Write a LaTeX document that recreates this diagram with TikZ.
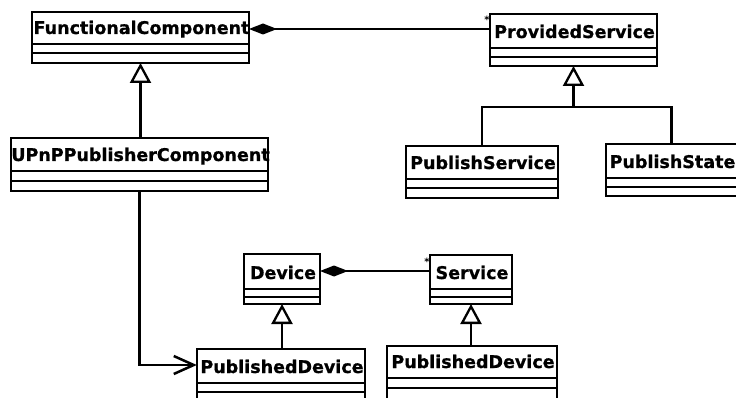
\documentclass[tikz,border=0pt]{standalone}
\usepackage{fontspec}
\setmainfont{DejaVu Sans}
\newfontfamily\clsfont[FakeBold=0.8]{DejaVu Sans Bold}
\usetikzlibrary{arrows.meta,fit}
\tikzset{
  clsname/.style={font=\clsfont\fontsize{17.5}{20}\selectfont, anchor=base, inner sep=0pt},
  conn/.style={line width=2.5pt},
  gen/.style={conn, shorten >=-1.2pt, -{Triangle[open, length=20pt, width=21pt, line width=2.3pt]}},
  comp/.style={conn, shorten >=-1.2pt, -{Diamond[length=28pt, width=11pt]}},
  nav/.style={conn, shorten >=-1pt, -{Straight Barb[length=20pt, width=18pt, line width=2.5pt]}},
  mult/.style={font=\bfseries\fontsize{10}{10}\selectfont, inner sep=0pt}
}
\newcommand{\umlcls}[8]{%
  \node[draw, line width=2.4pt, inner sep=0pt, fit={(#2,#3)(#4,#5)}] (#1) {};
  \draw[line width=2.4pt] (#2,#6) -- (#4,#6) (#2,#7) -- (#4,#7);
  \node[clsname] (#1-t) at ({(#2+#4)/2+1},{#6-10}) {#8};
}
\begin{document}
\begin{tikzpicture}[x=1pt,y=-1pt]
\useasboundingbox (0,0) rectangle (736,398);
\umlcls{fc}{32}{12}{249}{63}{44}{53}{FunctionalComponent}
\umlcls{prov}{490}{14}{657}{66}{48}{57}{ProvidedService}
\umlcls{upnp}{11}{138}{268}{191}{171}{181}{UPnPPublisherComponent}
\umlcls{pubsvc}{406}{146}{558}{198}{179}{188}{PublishService}
\umlcls{pubst}{606}{144}{737}{196}{178}{187}{PublishState}
\umlcls{dev}{244}{254}{320}{304}{289}{297}{Device}
\umlcls{svc}{430}{255}{512}{304}{289}{297}{Service}
\umlcls{pd1}{197}{349}{365}{402}{383}{392}{PublishedDevice}
\umlcls{pd2}{387}{346}{557}{402}{378}{388}{PublishedDevice}
\coordinate (c1) at (0,29);
\coordinate (j1) at (573.5,107);
\coordinate (c2) at (0,271);
\coordinate (c3) at (0,365);
\draw[gen] (fc.south |- upnp.north) -- (fc.south);
\draw[comp] (prov.west |- c1) -- (fc.east |- c1);
\node[mult] (m1) at (487,20) {*};
\draw[conn] (pubsvc.north) |- (j1) -| (pubst.north);
\draw[gen] (j1) -- (prov.south);
\draw[comp] (svc.west |- c2) -- (dev.east |- c2);
\node[mult] (m2) at (427,262) {*};
\draw[gen] (dev.south |- pd1.north) -- (dev.south);
\draw[gen] (svc.south |- pd2.north) -- (svc.south);
\draw[nav] (upnp.south) |- (pd1.west |- c3);
\end{tikzpicture}
\end{document}
